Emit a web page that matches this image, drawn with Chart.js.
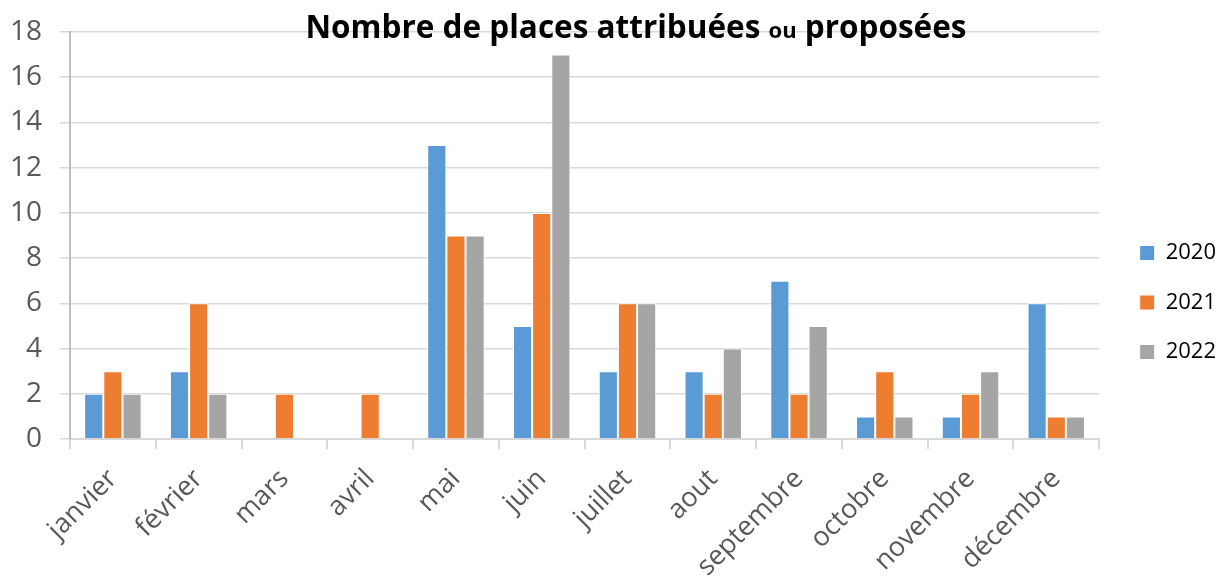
<!DOCTYPE html>
<html>
<head>
<meta charset="utf-8">
<script src="https://cdn.jsdelivr.net/npm/chart.js@4/dist/chart.umd.min.js"></script>
<style>
  html, body { margin: 0; padding: 0; background: #ffffff; }
  #wrap { width: 1222px; height: 582px; position: relative; }
</style>
</head>
<body>
<div id="wrap"><canvas id="chartPlaces" width="1222" height="582"></canvas></div>
<script>
// données
var mois = ['janvier', 'février', 'mars', 'avril', 'mai', 'juin', 'juillet', 'aout', 'septembre', 'octobre', 'novembre', 'décembre'];
var valeurs2020 = [2, 3, 0, 0, 13, 5, 3, 3, 7, 1, 1, 6];
var valeurs2021 = [3, 6, 2, 2, 9, 10, 6, 2, 2, 3, 2, 1];
var valeurs2022 = [2, 2, 0, 0, 9, 17, 6, 4, 5, 1, 3, 1];
var ticksY = [0, 2, 4, 6, 8, 10, 12, 14, 16, 18];

var police = "'Open Sans', 'Noto Sans', sans-serif";

// titre avec "ou" plus petit
var pluginTitre = {
    id: 'titre',
    afterDraw: function (chart) {
        var ctx = chart.ctx;
        var parts = [
            { t: 'Nombre de places attribuées ', f: "bold 31.5px 'Liberation Sans Narrow', 'Open Sans', sans-serif" },
            { t: 'ou', f: "bold 22px 'Liberation Sans Narrow', 'Open Sans', sans-serif" },
            { t: ' proposées', f: "bold 31.5px 'Liberation Sans Narrow', 'Open Sans', sans-serif" }
        ];
        ctx.save();
        var total = 0;
        parts.forEach(function (p) { ctx.font = p.f; p.w = ctx.measureText(p.t).width; total += p.w; });
        var x = 636 - total / 2;
        ctx.fillStyle = '#000000';
        ctx.textBaseline = 'alphabetic';
        ctx.textAlign = 'left';
        parts.forEach(function (p) { ctx.font = p.f; ctx.fillText(p.t, x, 38); x += p.w; });
        ctx.restore();
    }
};

// élargit la légende pour caler la zone de tracé, puis décale ses éléments
var pluginLegende = {
    id: 'largeurLegende',
    afterInit: function (chart) {
        var leg = chart.legend;
        if (!leg) return;
        var fit = leg.fit.bind(leg);
        leg.fit = function () {
            fit();
            this.width += 9;
            this.right = this.left + this.width;
        };
        var draw = leg.draw.bind(leg);
        leg.draw = function () {
            var ctx = this.ctx;
            ctx.save();
            ctx.translate(13, -3);
            draw();
            ctx.restore();
        };
    }
};

var ctxPlaces = document.getElementById('chartPlaces');

var graficoPlaces = new Chart(ctxPlaces, {
    type: 'bar',
    data: {
        labels: mois,
        datasets: [{
            label: '2020',
            data: valeurs2020,
            backgroundColor: '#5B9BD5',
            borderColor: '#ffffff',
            borderWidth: 1
        }, {
            label: '2021',
            data: valeurs2021,
            backgroundColor: '#ED7D31',
            borderColor: '#ffffff',
            borderWidth: 1
        }, {
            label: '2022',
            data: valeurs2022,
            backgroundColor: '#A5A5A5',
            borderColor: '#ffffff',
            borderWidth: 1
        }]
    },
    plugins: [pluginTitre, pluginLegende],
    options: {
        responsive: false,
        animation: false,
        layout: { padding: { left: 0, right: 0, top: 29, bottom: 0 } },
        datasets: { bar: { categoryPercentage: 0.67, barPercentage: 1.0 } },
        plugins: {
            title: { display: false },
            tooltip: { enabled: false },
            legend: {
                position: 'right',
                labels: {
                    color: '#000000',
                    font: { family: police, size: 22 },
                    boxWidth: 15,
                    boxHeight: 15,
                    padding: 27.5
                }
            }
        },
        scales: {
            x: {
                grid: { drawOnChartArea: false, color: '#d9d9d9', tickLength: 10, lineWidth: 2 },
                border: { color: '#d9d9d9', width: 2 },
                ticks: {
                    color: '#595959',
                    font: { family: police, size: 27 },
                    minRotation: 45,
                    maxRotation: 45,
                    padding: 14
                },
                afterFit: function (axis) { axis.height = 143; }
            },
            y: {
                min: 0,
                max: 18,
                afterBuildTicks: function (axis) { axis.ticks = ticksY.map(function (v) { return { value: v }; }); },
                grid: { color: '#d9d9d9', tickLength: 10, lineWidth: 1.5 },
                border: { color: '#bfbfbf', width: 2 },
                ticks: {
                    color: '#595959',
                    font: { family: police, size: 28, lineHeight: 1.0 },
                    padding: 18
                },
                afterFit: function (axis) { axis.width = 70; }
            }
        }
    }
});
</script>
</body>
</html>
